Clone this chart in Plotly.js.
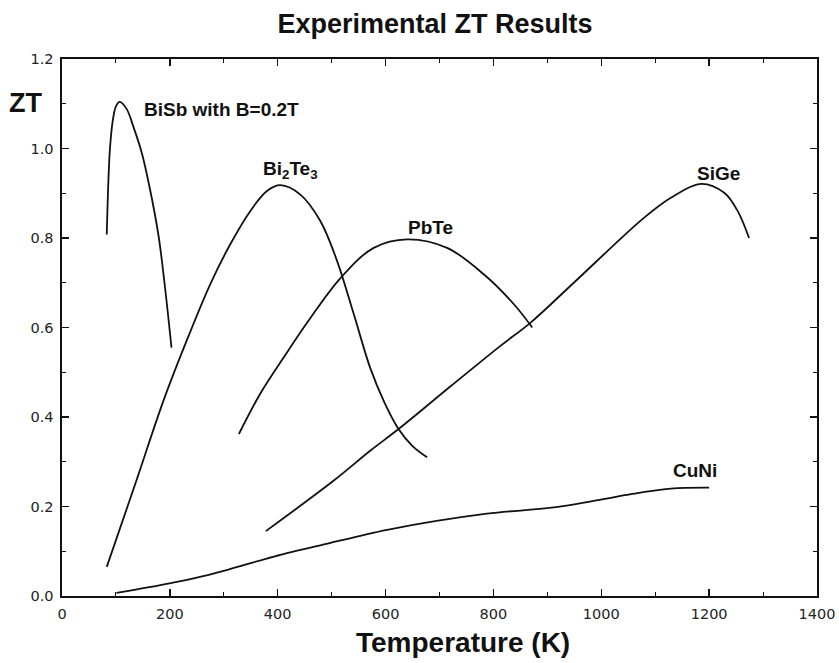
<!DOCTYPE html>
<html>
<head>
<meta charset="utf-8">
<script src="https://cdn.plot.ly/plotly-3.0.1.min.js"></script>
<style>html,body{margin:0;padding:0;background:#fff;}#chart{width:839px;height:663px;}</style>
</head>
<body>
<div id="chart"></div>
<script>
// Data
const bisbT  = [83, 86, 89, 94, 100, 107, 120, 132, 148, 163, 179, 191, 203];
const bisbZT = [0.808, 0.927, 1.001, 1.061, 1.094, 1.104, 1.088, 1.050, 0.990, 0.910, 0.805, 0.690, 0.555];

const bi2te3T  = [83, 138, 188, 231, 275, 312, 349, 380, 405, 442, 479, 510, 541, 572, 598, 623, 650, 677];
const bi2te3ZT = [0.065, 0.258, 0.436, 0.570, 0.697, 0.786, 0.860, 0.905, 0.918, 0.897, 0.838, 0.749, 0.630, 0.508, 0.432, 0.375, 0.335, 0.310];

const pbteT  = [328, 367, 411, 457, 516, 578, 640, 714, 782, 838, 872];
const pbteZT = [0.362, 0.451, 0.533, 0.615, 0.710, 0.778, 0.797, 0.778, 0.719, 0.652, 0.600];

const sigeT  = [378, 504, 572, 624, 720, 813, 869, 949, 1079, 1129, 1185, 1228, 1253, 1274];
const sigeZT = [0.145, 0.258, 0.325, 0.373, 0.468, 0.559, 0.611, 0.700, 0.845, 0.890, 0.921, 0.901, 0.860, 0.800];

const cuniT  = [101, 202, 268, 417, 479, 603, 788, 912, 1067, 1129, 1200];
const cuniZT = [0.007, 0.029, 0.046, 0.096, 0.113, 0.148, 0.184, 0.198, 0.230, 0.240, 0.242];

const labelText = ["BiSb with B=0.2T", "Bi<sub>2</sub>Te<sub>3</sub>", "PbTe", "SiGe", "CuNi"];
const labelT    = [296, 424, 683, 1217, 1173];
const labelZT   = [1.087, 0.951, 0.824, 0.944, 0.280];

const xTicks = [0, 200, 400, 600, 800, 1000, 1200, 1400];
const yTicks = [0.0, 0.2, 0.4, 0.6, 0.8, 1.0, 1.2];

const lineStyle = {color: '#111', width: 1.8, shape: 'spline', smoothing: 1};
function tr(x, y, name) {
  return {x: x, y: y, name: name, type: 'scatter', mode: 'lines', line: lineStyle, hoverinfo: 'x+y'};
}
const traces = [
  tr(bisbT, bisbZT, 'BiSb'),
  tr(bi2te3T, bi2te3ZT, 'Bi2Te3'),
  tr(pbteT, pbteZT, 'PbTe'),
  tr(sigeT, sigeZT, 'SiGe'),
  tr(cuniT, cuniZT, 'CuNi')
];

const fam = 'Arial, "Liberation Sans", sans-serif';
const annFont = {family: fam, size: 19, color: '#111'};
const annotations = labelText.map((t, i) => ({
  x: labelT[i], y: labelZT[i], xref: 'x', yref: 'y', text: '<b>' + t + '</b>',
  showarrow: false, font: annFont, xanchor: 'center', yanchor: 'middle'
}));
annotations.push({
  x: -0.048, y: 0.918, xref: 'paper', yref: 'paper', text: '<b>ZT</b>', showarrow: false,
  font: {family: fam, size: 27, color: '#111'},
  xanchor: 'center', yanchor: 'middle'
});
annotations.push({
  x: 0.531, y: -0.087, xref: 'paper', yref: 'paper', text: '<b>Temperature (K)</b>', showarrow: false,
  font: {family: fam, size: 28, color: '#111'},
  xanchor: 'center', yanchor: 'middle'
});

const tickFont = {family: '"DejaVu Sans", sans-serif', size: 14.5, color: '#222'};
const layout = {
  width: 839, height: 663,
  margin: {l: 62, r: 22, t: 59, b: 67},
  paper_bgcolor: '#fff', plot_bgcolor: '#fff',
  showlegend: false,
  title: {
    text: '<b>Experimental ZT Results</b>',
    font: {family: fam, size: 27, color: '#111'},
    x: 435 / 839, xref: 'container', xanchor: 'center',
    y: 1 - 24 / 663, yref: 'container', yanchor: 'middle'
  },
  xaxis: {
    range: [0, 1400], tickvals: xTicks, ticktext: xTicks.map(String),
    ticks: 'inside', ticklen: 7, tickwidth: 1.3, tickcolor: '#111',
    showline: true, linecolor: '#111', linewidth: 1.6, mirror: 'ticks',
    showgrid: false, zeroline: false, tickfont: tickFont, ticklabelstandoff: 4,
    minor: {dtick: 100, ticks: 'inside', ticklen: 4, tickwidth: 1.1, tickcolor: '#111', showgrid: false}
  },
  yaxis: {
    range: [0, 1.2], tickvals: yTicks, ticktext: yTicks.map(v => v.toFixed(1)),
    ticks: 'inside', ticklen: 7, tickwidth: 1.3, tickcolor: '#111',
    showline: true, linecolor: '#111', linewidth: 1.6, mirror: 'ticks',
    showgrid: false, zeroline: false, tickfont: tickFont, ticklabelstandoff: 4,
    minor: {dtick: 0.1, ticks: 'inside', ticklen: 4, tickwidth: 1.1, tickcolor: '#111', showgrid: false}
  },
  annotations: annotations
};
Plotly.newPlot('chart', traces, layout, {displayModeBar: false, staticPlot: true});
</script>
</body>
</html>
